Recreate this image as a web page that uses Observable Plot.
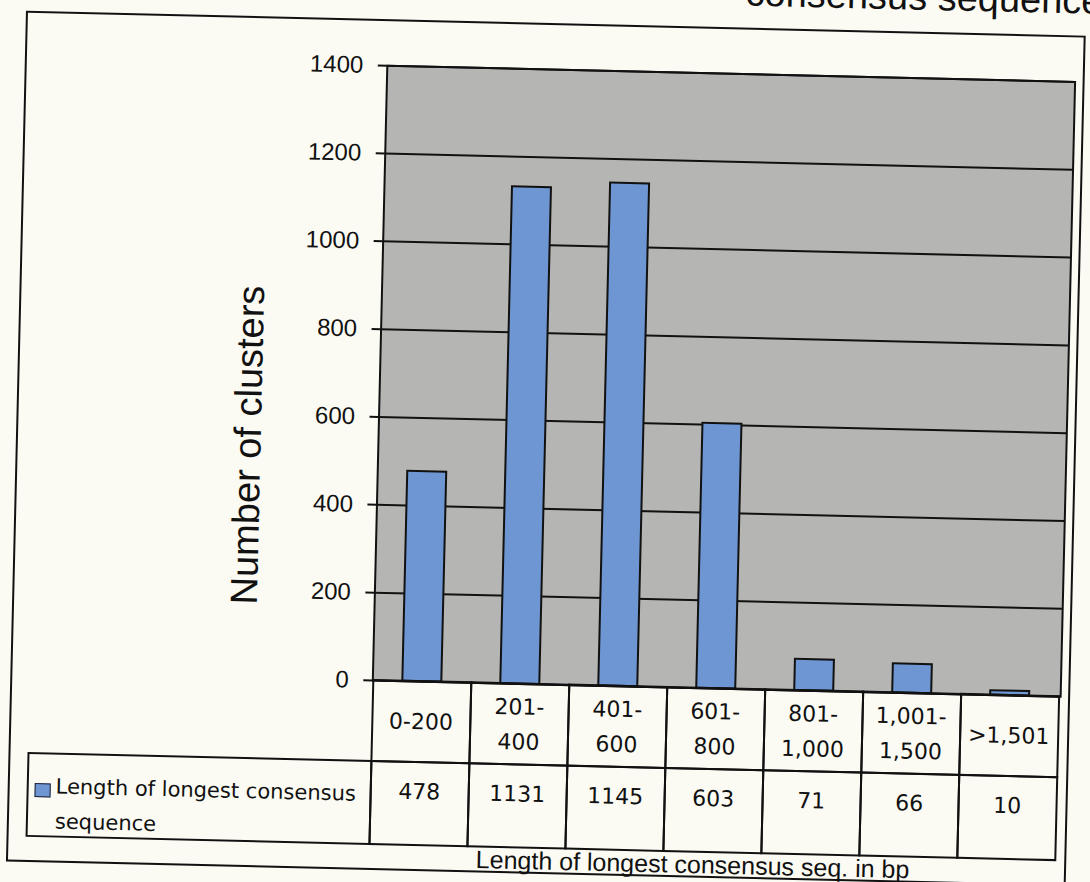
<!DOCTYPE html>
<html><head><meta charset="utf-8">
<script src="https://cdn.jsdelivr.net/npm/d3@7"></script>
<script src="https://cdn.jsdelivr.net/npm/@observablehq/plot@0.6"></script>
<style>
html,body{margin:0;padding:0;background:#fbfbf4;overflow:hidden;width:1090px;height:882px}
#page{position:absolute;left:0;top:0;width:1090px;height:882px;transform:rotate(1.35deg);transform-origin:545px 441px;font-family:"Liberation Sans",Arial,sans-serif;color:#111}
#title{position:absolute;left:735px;top:-72px;font-size:38px;line-height:40px;white-space:nowrap}
#outer{position:absolute;left:16px;top:23px;width:1060px;height:851px;box-sizing:border-box;border:2.5px solid #111}
.cell{position:absolute;box-sizing:border-box;border:2px solid #111;font-family:"DejaVu Sans",Verdana,sans-serif;font-size:22px;text-align:center}
.hdr{display:flex;flex-direction:column;justify-content:center;line-height:35px}
.val{line-height:30px;padding-top:14px}
.legsq{position:absolute;width:16px;height:14px;box-sizing:border-box;border:1.5px solid #223;background:#6d96d3}
.legtx{position:absolute;font-family:"DejaVu Sans",Verdana,sans-serif;font-size:21px;line-height:35px;white-space:nowrap}
#chart{position:absolute;left:0;top:0}
</style></head><body><div id="page"><div id="title"></div><div id="outer"></div><div id="chart"></div></div>
<script>
const categories = ["0-200","201-400","401-600","601-800","801-1,000","1,001-1,500",">1,501"];
const headerLabels = [["0-200"],["201-","400"],["401-","600"],["601-","800"],["801-","1,000"],["1,001-","1,500"],[">1,501"]];
const clusterCounts = [478,1131,1145,603,71,66,10];
const yTicks = [0,200,400,600,800,1000,1200,1400];
const seriesLines = ["Length of longest consensus","sequence"];
const yTitle = "Number of clusters";
const xTitle = "Length of longest consensus seq. in bp";
const chartTitleLines = ["Length of longest","consensus sequence"];

const data = categories.map((c,i)=>({cat:c, value:clusterCounts[i]}));
const page = document.getElementById("page");
document.getElementById("title").innerHTML = chartTitleLines.map(t=>`<div>${t}</div>`).join("");

const chart = Plot.plot({
  width:1090, height:882,
  marginLeft:378, marginRight:24, marginTop:69, marginBottom:198,
  style:{background:"transparent", fontFamily:"'Liberation Sans', Arial, sans-serif", color:"#111", overflow:"visible"},
  x:{domain:categories, paddingInner:0.6, paddingOuter:0.3, axis:null},
  y:{domain:[0,1400], axis:null},
  marks:[
    Plot.frame({fill:"#b5b5b3", stroke:"none"}),
    Plot.gridY(yTicks, {stroke:"#111", strokeOpacity:1, strokeWidth:2}),
    Plot.barY(data, {x:"cat", y:"value", fill:"#6d96d3", stroke:"#111", strokeWidth:2}),
    Plot.frame({stroke:"#111", strokeWidth:2}),
    Plot.axisY(yTicks, {tickSize:9, tickPadding:15, fontSize:24, color:"#111", strokeWidth:2, label:null, tickFormat:d=>String(d)}),
    Plot.text([yTitle], {text:d=>d, frameAnchor:"left", textAnchor:"middle", lineAnchor:"middle", rotate:-90, dx:-130, dy:75, fontSize:38, fill:"#111"}),
    Plot.text([xTitle], {text:d=>d, frameAnchor:"bottom", textAnchor:"middle", lineAnchor:"middle", dx:-20, dy:177, fontSize:25, fill:"#111"})
  ]
});
document.getElementById("chart").appendChild(chart);

const xs = chart.scale("x");
const step = xs.step ?? xs.bandwidth/0.4;
const edges = categories.map(c => xs.apply(c) - 0.3*step);
const plotBottom = 684, hdrBottom = 765, rowBottom = 848, tableLeft = 35;

function add(cls, left, top, w, h, html){
  const d = document.createElement("div");
  d.className = cls;
  Object.assign(d.style,{left:left+"px",top:top+"px",width:w+"px",height:h+"px"});
  if (html !== undefined) d.innerHTML = html;
  page.appendChild(d);
  return d;
}
categories.forEach((c,i)=>{
  add("cell hdr", edges[i]-1, plotBottom-1, step+2, hdrBottom-plotBottom+2,
      headerLabels[i].map(t=>`<div>${t}</div>`).join(""));
  add("cell val", edges[i]-1, hdrBottom-1, step+2, rowBottom-hdrBottom+2, String(clusterCounts[i]));
});
add("cell", tableLeft, hdrBottom-1, edges[0]-tableLeft+1, rowBottom-hdrBottom+2);
const sq = document.createElement("div"); sq.className="legsq";
Object.assign(sq.style,{left:"43px",top:"795px"}); page.appendChild(sq);
const lt = document.createElement("div"); lt.className="legtx";
Object.assign(lt.style,{left:"64px",top:"781px"});
lt.innerHTML = seriesLines.map(t=>`<div>${t}</div>`).join("");
page.appendChild(lt);
</script></body></html>
